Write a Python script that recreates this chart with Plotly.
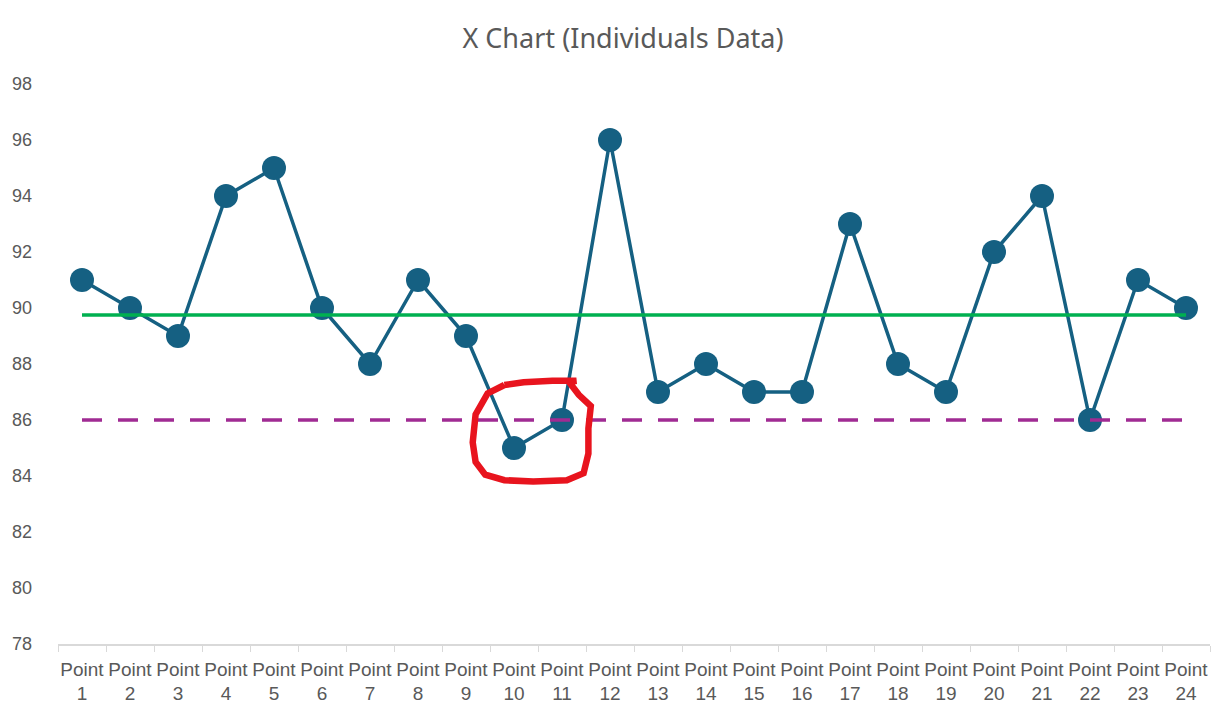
import plotly.graph_objects as go

# X chart (individuals) data
labels = [f"Point<br>{i}" for i in range(1, 25)]
values = [91, 90, 89, 94, 95, 90, 88, 91, 89, 85, 86, 96,
          87, 88, 87, 87, 93, 88, 87, 92, 94, 86, 91, 90]
mean_line = [89.75] * 24
lower_line = [86] * 24

# hand-drawn ring around points 10 and 11 (offsets from point 10, in data units)
ring_dx = [-0.2, -0.55, -0.8, -0.86, -0.8, -0.6, -0.2, 0.4, 1.1, 1.45, 1.55,
           1.55, 1.6, 1.35, 1.15, 1.3, 0.8, 0.2, -0.2]
ring_dy = [2.25, 1.95, 1.2, 0.2, -0.5, -0.95, -1.15, -1.2, -1.15, -0.9, -0.2,
           0.7, 1.5, 1.9, 2.35, 2.4, 2.4, 2.35, 2.25]

fig = go.Figure()
fig.add_trace(go.Scatter(
    x=labels, y=values, mode="lines+markers",
    line=dict(color="#156082", width=3.5),
    marker=dict(color="#156082", size=24),
    showlegend=False))
fig.add_trace(go.Scatter(
    x=labels, y=mean_line, mode="lines",
    line=dict(color="#00b050", width=3.5), showlegend=False))
fig.add_trace(go.Scatter(
    x=labels, y=lower_line, mode="lines",
    line=dict(color="#a02b93", width=3.5, dash="20px,16px"), showlegend=False))

# red ring built from the position of point 10
cx = values.index(85)
cy = values[cx]
path = "M " + " L ".join(f"{cx + dx},{cy + dy}" for dx, dy in zip(ring_dx, ring_dy))
fig.add_shape(type="path", path=path, xref="x", yref="y",
              line=dict(color="#e8141e", width=6.5))

fig.update_layout(
    width=1230, height=720,
    paper_bgcolor="white", plot_bgcolor="white",
    margin=dict(l=50, r=28, t=76, b=84, autoexpand=False),
    title=dict(text="X Chart (Individuals Data)", x=0.5, xanchor="center",
               y=0.958, yanchor="middle",
               font=dict(family="Noto Sans", size=27, color="#595959")),
    font=dict(family="Liberation Sans", size=18, color="#595959"),
)
fig.update_xaxes(type="category", range=[-0.5, 23.5], tickson="boundaries",
                 ticks="outside", ticklen=6, tickcolor="#d9d9d9", showline=True,
                 linecolor="#d9d9d9", linewidth=1.5, showgrid=False,
                 tickangle=0, automargin=False, ticklabelstandoff=7,
                 tickfont=dict(family="Liberation Sans", size=19, color="#595959"))
fig.update_yaxes(range=[78, 98], dtick=2, showgrid=False, zeroline=False,
                 showline=False, automargin=False, ticklabelstandoff=25,
                 tickfont=dict(family="Liberation Sans", size=18, color="#595959"))

fig.write_html("out.html")
